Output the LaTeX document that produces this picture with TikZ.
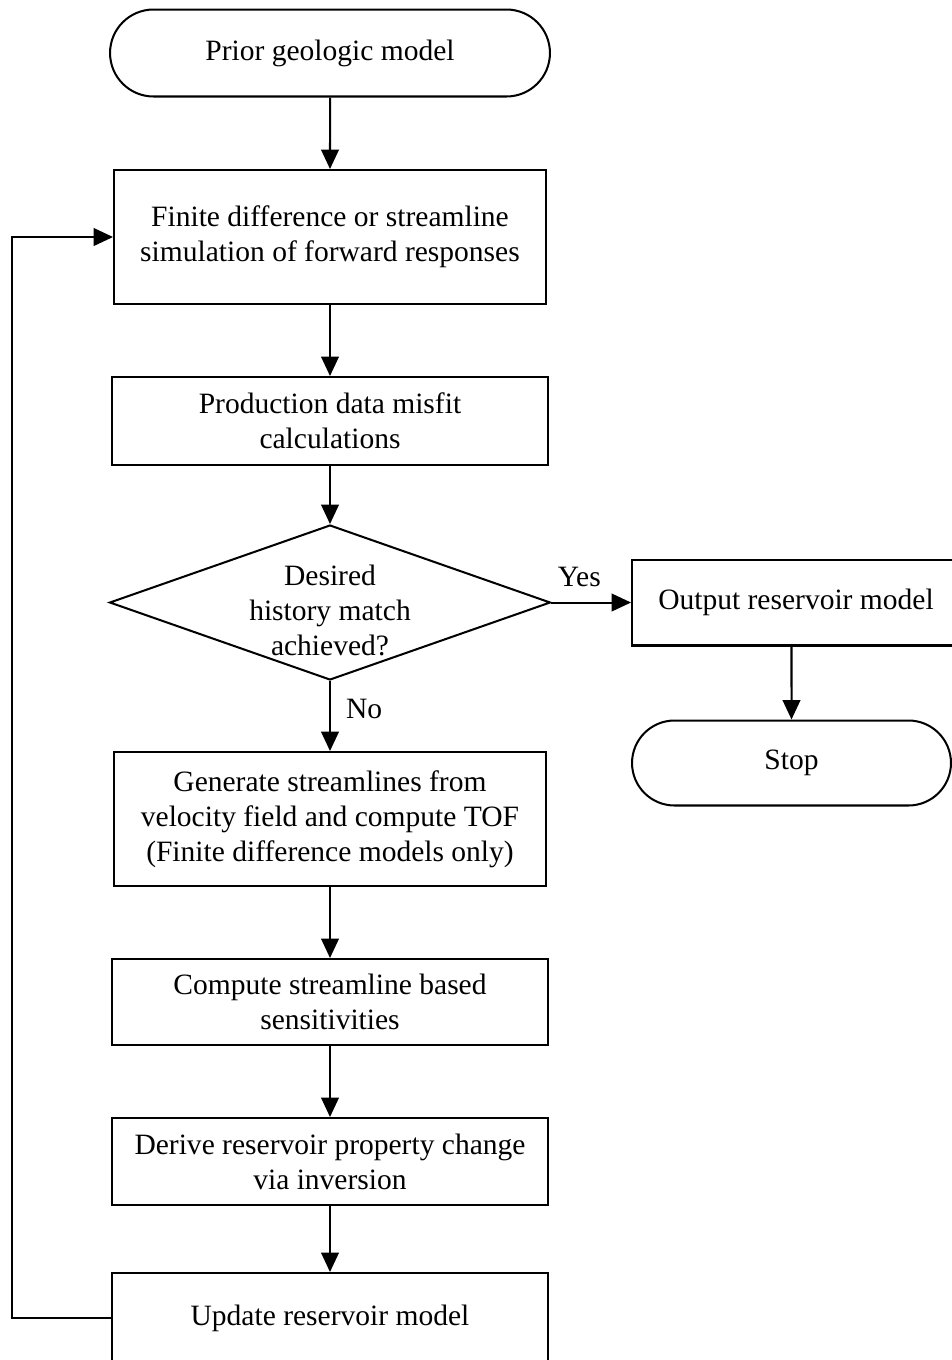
\documentclass[tikz,border=0pt]{standalone}
\usepackage{fontspec}
\setmainfont{Liberation Serif}
\usetikzlibrary{shapes.geometric,shapes.misc,arrows.meta}

\begin{document}
\begin{tikzpicture}[x=0.02cm,y=-0.02cm,
  line width=1.15pt,
  every node/.style={font=\fontsize{16.8}{19.9}\selectfont, align=center, inner sep=0pt},
  terminal/.style={draw, rounded rectangle, rounded rectangle arc length=180},
  process/.style={draw, rectangle},
  decision/.style={draw, diamond, minimum width=8.82cm, minimum height=3.1cm},
  flow/.style={-{Triangle[width=10pt,length=11pt]}}]
\useasboundingbox (0,0) rectangle (952,1360);
\clip (0,0) rectangle (952,1360);
% main column
\node[terminal, minimum width=8.8cm, minimum height=1.74cm] (prior) at (330,53) {Prior geologic model};
\node[process, minimum width=8.64cm, minimum height=2.68cm] (sim) at (330,237)
  {Finite difference or streamline\\simulation of forward responses};
\node[process, minimum width=8.74cm, minimum height=1.76cm] (misfit) at (330,421)
  {Production data misfit\\calculations};
\node[decision, label={[yshift=-0.15cm]center:Desired\\history match\\achieved?}] (match) at (330,602.5) {};
\node[process, minimum width=8.64cm, minimum height=2.68cm] (gen) at (330,819)
  {Generate streamlines from\\velocity field and compute TOF\\(Finite difference models only)};
\node[process, minimum width=8.74cm, minimum height=1.72cm] (sens) at (330,1002)
  {Compute streamline based\\sensitivities};
\node[process, minimum width=8.74cm, minimum height=1.74cm] (inv) at (330,1161.5)
  {Derive reservoir property change\\via inversion};
\node[process, minimum width=8.74cm, minimum height=1.8cm] (upd) at (330,1318)
  {Update reservoir model};
% right column
\node[process, minimum width=6.6cm, minimum height=1.72cm] (out) at (797,602.5) {};
\node at (796,602) {Output reservoir model};
\node[terminal, minimum width=6.38cm, minimum height=1.7cm] (stop) at (791.5,763) {Stop};
\coordinate (loop) at (12,700);

\draw[flow] (prior) -- (sim);
\draw[flow] (sim) -- (misfit);
\draw[flow] (misfit.south) -- (match.north);
\draw[flow] (match.east) -- node[pos=0.35, above=0.3cm] {Yes} (out.west);
\draw[flow] (match.south) -- node[pos=0.4, right=0.3cm] {No} (match.south |- gen.north);
\draw[flow] (gen) -- (sens);
\draw[flow] (sens) -- (inv);
\draw[flow] (inv) -- (upd);
\draw[flow] (out.south -| stop) -- (stop);
\draw[flow] (upd.west) -| (loop) |- (sim.west);
\end{tikzpicture}
\end{document}
